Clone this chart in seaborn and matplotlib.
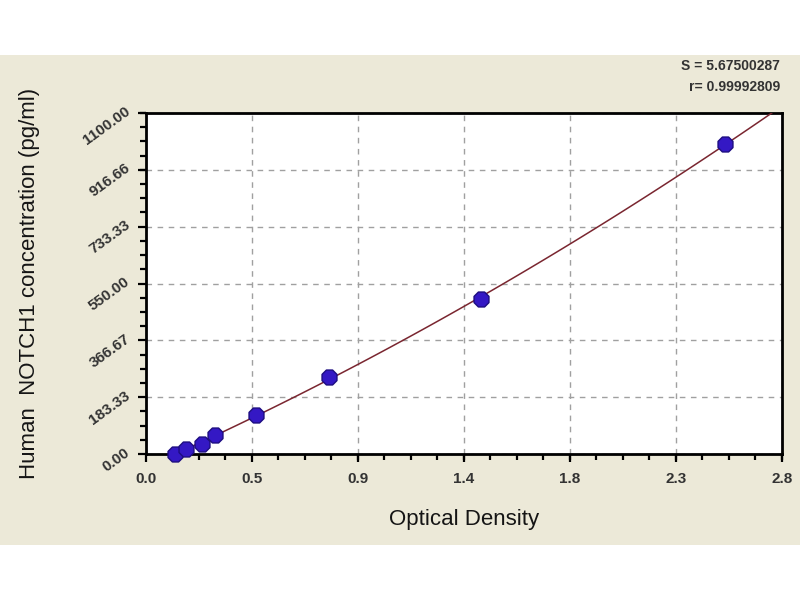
import numpy as np
import pandas as pd
import seaborn as sns
import matplotlib.pyplot as plt
from matplotlib.patches import Rectangle
from matplotlib.ticker import AutoMinorLocator

# standard curve points
od = [0.126, 0.172, 0.243, 0.298, 0.475, 0.793, 1.449, 2.505]
conc = [0.0, 15.63, 31.25, 62.5, 125.0, 250.0, 500.0, 1000.0]

x_ticks = [0.0, 0.4583, 0.9167, 1.375, 1.8333, 2.2917, 2.75]
x_labels = ['0.0', '0.5', '0.9', '1.4', '1.8', '2.3', '2.8']
y_ticks = [0.0, 183.33, 366.67, 550.0, 733.33, 916.67, 1100.0]
y_labels = ['0.00', '183.33', '366.67', '550.00', '733.33', '916.66', '1100.00']

fit_s = 'S = 5.67500287'
fit_r = 'r= 0.99992809'

df = pd.DataFrame({'od': od, 'conc': conc})

sns.set_style('ticks')
plt.rcParams['font.family'] = ['Liberation Sans', 'DejaVu Sans']

fig = plt.figure(figsize=(8, 6), dpi=100, facecolor='white')
# beige panel behind the chart
fig.patches.append(Rectangle((0, 55 / 600), 1, 490 / 600, transform=fig.transFigure,
                             facecolor='#ECE9D8', edgecolor='none', zorder=-10))

ax = fig.add_axes([0.1825, 0.2433, 0.795, 0.5683])
ax.set_zorder(2)
ax.set_facecolor('white')
ax.set_xlim(0, 2.75)
ax.set_ylim(0, 1100)

# fitted curve (quadratic through the standards, run over the whole x range)
sns.regplot(data=df, x='od', y='conc', order=2, ci=None, truncate=False,
            scatter_kws={'s': 0, 'alpha': 0},
            line_kws={'color': '#7a2630', 'linewidth': 1.1, 'zorder': 3}, ax=ax)
# standards
sns.scatterplot(data=df, x='od', y='conc', marker='8', s=135, color='#3418c4',
                edgecolor='#1c0c80', linewidth=1.0, zorder=5, clip_on=False, ax=ax)

ax.set_xlim(0, 2.75)
ax.set_ylim(0, 1100)
ax.set_xticks(x_ticks)
ax.set_xticklabels(x_labels, fontsize=11, fontweight='bold', color='#333333')
ax.set_yticks(y_ticks)
ax.set_yticklabels(y_labels, fontsize=11, fontweight='bold', color='#333333',
                   rotation=36, rotation_mode='anchor', ha='right', va='baseline')
ax.xaxis.set_minor_locator(AutoMinorLocator(4))
ax.yaxis.set_minor_locator(AutoMinorLocator(4))
ax.tick_params(which='major', direction='out', length=6, width=1.6, color='black', pad=7)
ax.tick_params(which='minor', direction='out', length=4, width=1.6, color='black')
ax.tick_params(axis='y', which='major', pad=5)

ax.grid(True, which='major', color='#a0a0a0', linestyle=(0, (4, 4)), linewidth=1.0)
for sp in ax.spines.values():
    sp.set_visible(True)
    sp.set_linewidth(2.0)
    sp.set_color('black')

ax.set_xlabel('')
ax.set_ylabel('')
fig.text(464 / 800, 1 - 520 / 600, 'Optical Density', ha='center', va='center',
         fontsize=16, color='#151515')
fig.text(30 / 800, 1 - 283 / 600, 'Human  NOTCH1 concentration (pg/ml)', ha='center',
         va='center', rotation=90, fontsize=16, color='#151515')

fig.text(780 / 800, 1 - 66 / 600, fit_s, ha='right', va='center', fontsize=10,
         fontweight='bold', color='#333333')
fig.text(780 / 800, 1 - 87 / 600, fit_r, ha='right', va='center', fontsize=10,
         fontweight='bold', color='#333333')

fig.savefig('out.png', dpi=100, facecolor=fig.get_facecolor())
